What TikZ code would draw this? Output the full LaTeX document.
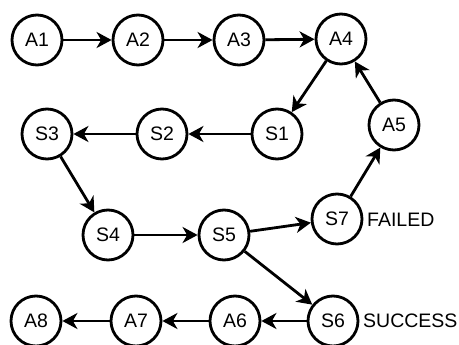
\documentclass[tikz,border=0pt]{standalone}
\usepackage{fontspec}
\setmainfont{Liberation Sans}
\usetikzlibrary{arrows.meta}
\begin{document}
\begin{tikzpicture}[x=1pt,y=-1pt,
  state/.style={circle,draw=black,line width=2.8pt,minimum size=50pt,inner sep=0pt,font=\fontsize{19.5}{22}\selectfont},
  lbl/.style={anchor=west,inner sep=0pt,font=\fontsize{19.5}{22}\selectfont},
  conn/.style={line width=2.8pt,-{Stealth[length=15pt,width=16pt,inset=4.5pt]}}]
\useasboundingbox (0,0) rectangle (459,345);
\node[state] (A1) at (37,40) {A1};
\node[state] (A2) at (138,40) {A2};
\node[state] (A3) at (239,40) {A3};
\node[state] (A4) at (341,39) {A4};
\node[state] (S1) at (277,134) {S1};
\node[state] (S2) at (162,134) {S2};
\node[state] (S3) at (47,134) {S3};
\node[state] (A5) at (394,125) {A5};
\node[state] (S4) at (108,235) {S4};
\node[state] (S5) at (224,235) {S5};
\node[state] (S7) at (337,219) {S7};
\node[state] (A8) at (36,321) {A8};
\node[state] (A7) at (136,321) {A7};
\node[state] (A6) at (235,321) {A6};
\node[state] (S6) at (333,321) {S6};
\node[lbl] (F) at (367,220) {FAILED};
\node[lbl] (SU) at (363,321) {SUCCESS};
\draw[conn] (A1) -- (A2);
\draw[conn] (A2) -- (A3);
\draw[conn] (A3) -- (A4);
\draw[conn] (A4) -- (S1);
\draw[conn] (S1) -- (S2);
\draw[conn] (S2) -- (S3);
\draw[conn] (S3) -- (S4);
\draw[conn] (S4) -- (S5);
\draw[conn] (S5) -- (S7);
\draw[conn] (S5) -- (S6);
\draw[conn] (S7) -- (A5);
\draw[conn] (A5) -- (A4);
\draw[conn] (S6) -- (A6);
\draw[conn] (A6) -- (A7);
\draw[conn] (A7) -- (A8);
\end{tikzpicture}
\end{document}
